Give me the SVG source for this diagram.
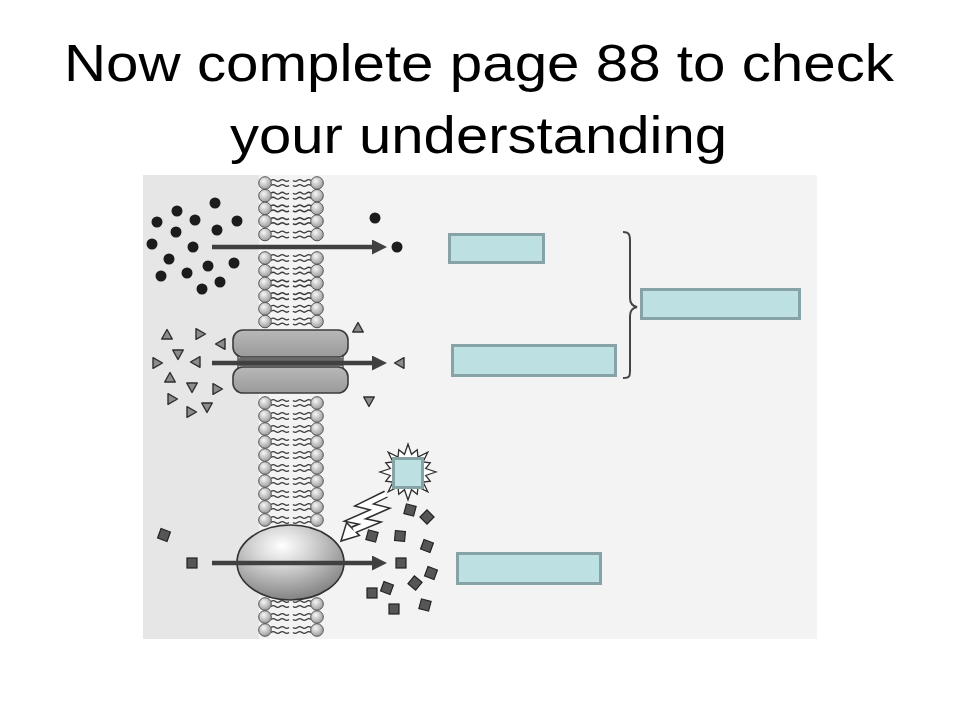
<svg xmlns="http://www.w3.org/2000/svg" xmlns:xlink="http://www.w3.org/1999/xlink" width="960" height="720" viewBox="0 0 960 720">
<style>
.title{font-family:"Liberation Sans",Arial,sans-serif;font-size:52px;fill:#000}
.box{fill:#bde0e3;stroke:#88a3a6;stroke-width:3}
.dot{fill:#1c1c1c}
.tri{fill:#8c8c8c;stroke:#2e2e2e;stroke-width:1.4;stroke-linejoin:round}
.sq{fill:#565656;stroke:#222;stroke-width:1.2}
.tail{fill:none;stroke:#3c3c3c;stroke-width:1.4}
.head{fill:url(#hg);stroke:#555;stroke-width:1}
.arr{stroke:#404040;stroke-width:4.5;fill:none}
</style>
<defs>
<radialGradient id="hg" cx="40%" cy="35%" r="65%">
<stop offset="0" stop-color="#f7f7f7"/>
<stop offset="1" stop-color="#9c9c9c"/>
</radialGradient>
<radialGradient id="eg" cx="42%" cy="28%" r="75%">
<stop offset="0" stop-color="#ffffff"/>
<stop offset="0.35" stop-color="#d6d6d6"/>
<stop offset="1" stop-color="#7e7e7e"/>
</radialGradient>
<linearGradient id="cg" x1="0" y1="0" x2="0" y2="1">
<stop offset="0" stop-color="#b8b8b8"/>
<stop offset="1" stop-color="#9a9a9a"/>
</linearGradient>
<g id="lipid">
<path class="tail" d="M271,-2.5 q2.25,-1.8 4.5,0 t4.5,0 t4.5,0 t4.5,0 M271,2.5 q2.25,-1.8 4.5,0 t4.5,0 t4.5,0 t4.5,0"/>
<path class="tail" d="M311,-2.5 q-2.25,-1.8 -4.5,0 t-4.5,0 t-4.5,0 t-4.5,0 M311,2.5 q-2.25,-1.8 -4.5,0 t-4.5,0 t-4.5,0 t-4.5,0"/>
<circle class="head" cx="265" cy="0" r="6.3"/>
<circle class="head" cx="317" cy="0" r="6.3"/>
</g>
<polygon id="tri" points="0,-5.5 5.3,4 -5.3,4"/>
<rect id="sq" x="-5" y="-5" width="10" height="10"/>
<marker id="ah" markerUnits="userSpaceOnUse" markerWidth="16" markerHeight="16" refX="0" refY="7.5" orient="auto">
<path d="M0,0 L15,7.5 L0,15 z" fill="#404040"/>
</marker>
</defs>

<rect width="960" height="720" fill="#ffffff"/>

<g id="title">
<text class="title" x="64" y="81" textLength="830" lengthAdjust="spacingAndGlyphs">Now complete page 88 to check</text>
<text class="title" x="230" y="153" textLength="497" lengthAdjust="spacingAndGlyphs">your understanding</text>
</g>

<g id="panel">
<rect x="143" y="175" width="674" height="464" fill="#f3f3f3"/>
<rect x="143" y="175" width="116" height="464" fill="#e6e6e6"/>
</g>

<g id="membrane">
<use href="#lipid" y="183"/>
<use href="#lipid" y="195.7"/>
<use href="#lipid" y="208.4"/>
<use href="#lipid" y="221.1"/>
<use href="#lipid" y="234.5"/>
<use href="#lipid" y="258"/>
<use href="#lipid" y="270.7"/>
<use href="#lipid" y="283.4"/>
<use href="#lipid" y="296.1"/>
<use href="#lipid" y="308.8"/>
<use href="#lipid" y="321.5"/>
<use href="#lipid" y="403"/>
<use href="#lipid" y="416"/>
<use href="#lipid" y="429"/>
<use href="#lipid" y="442"/>
<use href="#lipid" y="455"/>
<use href="#lipid" y="468"/>
<use href="#lipid" y="481"/>
<use href="#lipid" y="494"/>
<use href="#lipid" y="507"/>
<use href="#lipid" y="520"/>
<use href="#lipid" y="604"/>
<use href="#lipid" y="617"/>
<use href="#lipid" y="630"/>
</g>

<g id="channel-protein">
<rect x="238" y="352" width="105" height="18" fill="#d0d0d0" stroke="#3c3c3c" stroke-width="1.2"/>
<rect x="238" y="358" width="105" height="8" fill="#6a6a6a"/>
<rect x="233" y="330" width="115" height="27" rx="10" fill="url(#cg)" stroke="#3c3c3c" stroke-width="1.6"/>
<rect x="233" y="367" width="115" height="26" rx="10" fill="url(#cg)" stroke="#3c3c3c" stroke-width="1.6"/>
</g>

<g id="carrier-protein">
<ellipse cx="290.5" cy="562.5" rx="53.5" ry="37.5" fill="url(#eg)" stroke="#333" stroke-width="1.6"/>
</g>

<g id="molecules-circles">
<circle class="dot" cx="215" cy="203" r="5.5"/>
<circle class="dot" cx="177" cy="211" r="5.5"/>
<circle class="dot" cx="195" cy="220" r="5.5"/>
<circle class="dot" cx="157" cy="222" r="5.5"/>
<circle class="dot" cx="237" cy="221" r="5.5"/>
<circle class="dot" cx="176" cy="232" r="5.5"/>
<circle class="dot" cx="217" cy="230" r="5.5"/>
<circle class="dot" cx="152" cy="244" r="5.5"/>
<circle class="dot" cx="193" cy="247" r="5.5"/>
<circle class="dot" cx="169" cy="259" r="5.5"/>
<circle class="dot" cx="234" cy="263" r="5.5"/>
<circle class="dot" cx="208" cy="266" r="5.5"/>
<circle class="dot" cx="187" cy="273" r="5.5"/>
<circle class="dot" cx="161" cy="276" r="5.5"/>
<circle class="dot" cx="220" cy="282" r="5.5"/>
<circle class="dot" cx="202" cy="289" r="5.5"/>
<circle class="dot" cx="375" cy="218" r="5.5"/>
<circle class="dot" cx="397" cy="247" r="5.5"/>
</g>

<g id="molecules-triangles">
<use href="#tri" class="tri" transform="translate(167,335)"/>
<use href="#tri" class="tri" transform="translate(200,334) rotate(90)"/>
<use href="#tri" class="tri" transform="translate(221,344) rotate(-90)"/>
<use href="#tri" class="tri" transform="translate(178,354) rotate(180)"/>
<use href="#tri" class="tri" transform="translate(157,363) rotate(90)"/>
<use href="#tri" class="tri" transform="translate(196,362) rotate(-90)"/>
<use href="#tri" class="tri" transform="translate(170,378)"/>
<use href="#tri" class="tri" transform="translate(192,387) rotate(180)"/>
<use href="#tri" class="tri" transform="translate(217,389) rotate(90)"/>
<use href="#tri" class="tri" transform="translate(172,399) rotate(90)"/>
<use href="#tri" class="tri" transform="translate(207,407) rotate(180)"/>
<use href="#tri" class="tri" transform="translate(191,412) rotate(90)"/>
<use href="#tri" class="tri" transform="translate(358,328)"/>
<use href="#tri" class="tri" transform="translate(400,363) rotate(-90)"/>
<use href="#tri" class="tri" transform="translate(369,401) rotate(180)"/>
</g>

<g id="molecules-squares">
<use href="#sq" class="sq" transform="translate(164,535) rotate(20)"/>
<use href="#sq" class="sq" transform="translate(192,563)"/>
<use href="#sq" class="sq" transform="translate(410,510) rotate(15)"/>
<use href="#sq" class="sq" transform="translate(427,517) rotate(45)"/>
<use href="#sq" class="sq" transform="translate(372,536) rotate(15)"/>
<use href="#sq" class="sq" transform="translate(400,536) rotate(5)"/>
<use href="#sq" class="sq" transform="translate(427,546) rotate(20)"/>
<use href="#sq" class="sq" transform="translate(401,563)"/>
<use href="#sq" class="sq" transform="translate(431,573) rotate(20)"/>
<use href="#sq" class="sq" transform="translate(415,583) rotate(40)"/>
<use href="#sq" class="sq" transform="translate(387,588) rotate(20)"/>
<use href="#sq" class="sq" transform="translate(372,593)"/>
<use href="#sq" class="sq" transform="translate(394,609)"/>
<use href="#sq" class="sq" transform="translate(425,605) rotate(15)"/>
</g>

<g id="energy">
<polygon points="436,472 425.7,475.5 430.2,481.2 423,482 427.8,491.8 418,487 417.2,494.2 411.5,489.7 408,500 404.5,489.7 398.8,494.2 398,487 388.2,491.8 393,482 385.8,481.2 390.3,475.5 380,472 390.3,468.5 385.8,462.8 393,462 388.2,452.2 398,457 398.8,449.8 404.5,454.3 408,444 411.5,454.3 417.2,449.8 418,457 427.8,452.2 423,462 430.2,462.8 425.7,468.5" fill="#ffffff" stroke="#2e2e2e" stroke-width="1.3" stroke-linejoin="miter"/>
<rect class="box" x="393.5" y="458.5" width="29" height="29"/>
<polyline points="386,494 364,505 380,509 355,520 370,523 353,530" fill="none" stroke="#2e2e2e" stroke-width="8" stroke-linejoin="miter" stroke-miterlimit="6"/>
<polygon points="341,541 346.6,522.6 359.4,535.4" fill="#ffffff" stroke="#2e2e2e" stroke-width="1.5" stroke-linejoin="miter"/>
<polyline points="386.5,494 364,505 380,509 355,520 370,523 353.5,530" fill="none" stroke="#ffffff" stroke-width="5" stroke-linejoin="miter" stroke-miterlimit="6"/>
</g>

<g id="connectors">
<line class="arr" x1="212" y1="247" x2="372" y2="247" marker-end="url(#ah)"/>
<line class="arr" x1="212" y1="363" x2="372" y2="363" marker-end="url(#ah)"/>
<line class="arr" x1="212" y1="563" x2="372" y2="563" marker-end="url(#ah)"/>
<path d="M623,232 C630,232 630,236 630,242 L630,298 C630,303 632,306 637,307 C632,308 630,311 630,316 L630,370 C630,376 630,378 623,378" fill="none" stroke="#444" stroke-width="2"/>
</g>

<g id="box-1"><rect class="box" x="449.5" y="234.5" width="94" height="28"/></g>
<g id="box-2"><rect class="box" x="452.5" y="345.5" width="163" height="30"/></g>
<g id="box-3"><rect class="box" x="641.5" y="289.5" width="158" height="29"/></g>
<g id="box-4"><rect class="box" x="457.5" y="553.5" width="143" height="30"/></g>
</svg>
